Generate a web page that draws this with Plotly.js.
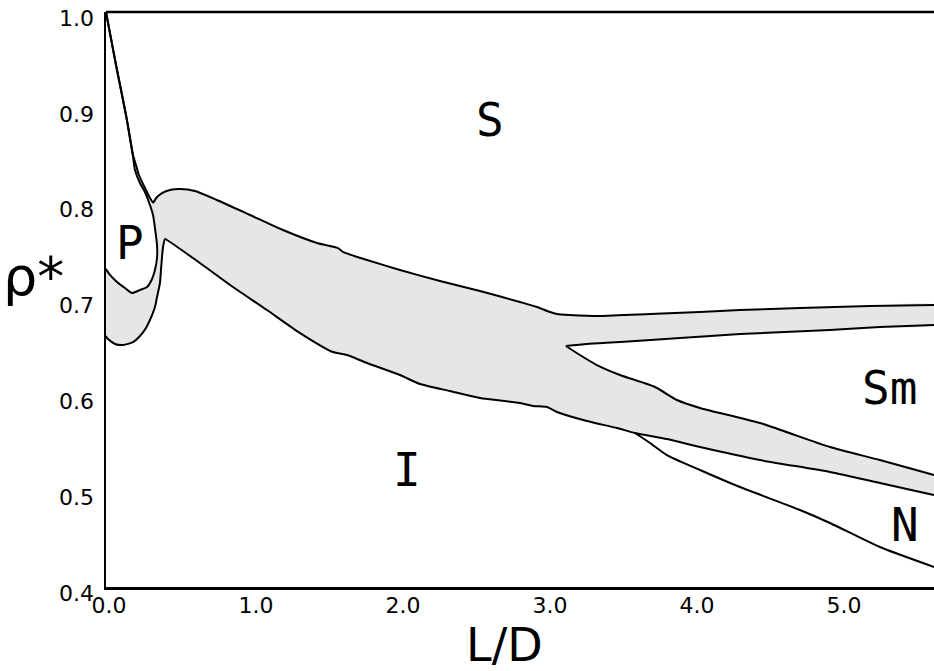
<!DOCTYPE html>
<html>
<head>
<meta charset="utf-8">
<script src="https://cdn.plot.ly/plotly-3.0.1.min.js"></script>
<style>
html, body { margin: 0; padding: 0; overflow: hidden; background: #fff; }
#chart { width: 934px; height: 671px; }
</style>
</head>
<body>
<div id="chart"></div>
<script>
// ---- Data (L/D, reduced density rho*) ----
// Solid / plastic boundary (inner line of the thin S+P sliver, continuing round the P region)
const innerX = [0, 0.068, 0.136, 0.184, 0.197, 0.231, 0.265, 0.299, 0.320, 0.333, 0.347, 0.347, 0.333, 0.313, 0.279, 0.231, 0.177, 0.129, 0.075, 0.027, 0];
const innerY = [1.0, 0.9447, 0.8925, 0.8487, 0.8351, 0.8216, 0.8122, 0.7986, 0.7882, 0.7746, 0.7569, 0.7433, 0.7308, 0.7214, 0.7130, 0.7099, 0.7068, 0.7120, 0.7183, 0.7256, 0.7318];
// Outer line of the S+P sliver
const outerX = [0, 0.068, 0.136, 0.184, 0.204, 0.224, 0.265, 0.299, 0.320];
const outerY = [1.0, 0.9447, 0.8925, 0.8508, 0.8403, 0.8299, 0.8163, 0.8059, 0.8007];
// Upper edge of the coexistence band (solid side)
const bandTopX = [0.320, 0.347, 0.381, 0.435, 0.503, 0.605, 0.755, 0.980, 1.204, 1.435, 1.578, 1.612, 1.776, 2.000, 2.272, 2.544, 2.816, 2.932, 3.020, 3.068, 3.156, 3.361, 3.701, 4.041, 4.313, 4.721, 5.197, 5.633];
const bandTopY = [0.8007, 0.8070, 0.8111, 0.8143, 0.8153, 0.8132, 0.8038, 0.7882, 0.7725, 0.7590, 0.7537, 0.7496, 0.7412, 0.7308, 0.7193, 0.7089, 0.6974, 0.6922, 0.6869, 0.6848, 0.6838, 0.6828, 0.6848, 0.6869, 0.6890, 0.6911, 0.6932, 0.6942];
// Smectic upper boundary (lower edge of S+Sm band)
const smUpperX = [3.129, 3.272, 3.497, 3.905, 4.313, 4.925, 5.265, 5.633];
const smUpperY = [0.6515, 0.6536, 0.6556, 0.6598, 0.6640, 0.6682, 0.6713, 0.6734];
// Smectic lower boundary (upper edge of Sm+N band)
const smLowerX = [3.129, 3.224, 3.340, 3.497, 3.735, 3.884, 4.041, 4.449, 4.925, 5.265, 5.633];
const smLowerY = [0.6515, 0.6421, 0.6316, 0.6212, 0.6087, 0.5951, 0.5868, 0.5711, 0.5461, 0.5325, 0.5169];
// Lower edge of the coexistence band (isotropic / nematic side)
const lowX = [0, 0.007, 0.061, 0.116, 0.184, 0.231, 0.272, 0.299, 0.333, 0.347, 0.367, 0.374, 0.381, 0.388, 0.401, 0.415, 0.639, 0.864, 1.095, 1.320, 1.544, 1.639, 1.776, 2.000, 2.136, 2.340, 2.544, 2.816, 2.905, 3.000, 3.068, 3.272, 3.476, 3.599, 3.816, 4.041, 4.449, 4.925, 5.265, 5.633];
const lowY = [0.6619, 0.6598, 0.6536, 0.6525, 0.6556, 0.6619, 0.6703, 0.6786, 0.6922, 0.7026, 0.7172, 0.7308, 0.7443, 0.7548, 0.7631, 0.7621, 0.7381, 0.7130, 0.6890, 0.6650, 0.6452, 0.6421, 0.6337, 0.6212, 0.6118, 0.6045, 0.5972, 0.5920, 0.5889, 0.5878, 0.5826, 0.5732, 0.5659, 0.5607, 0.5544, 0.5461, 0.5325, 0.5200, 0.5085, 0.4960];
// Isotropic / nematic boundary
const nX = [3.599, 3.701, 3.816, 4.041, 4.313, 4.721, 4.925, 5.265, 5.633];
const nY = [0.5607, 0.5503, 0.5377, 0.5221, 0.5043, 0.4803, 0.4668, 0.4417, 0.4209];

// Phase labels
const phaseText = ["S", "P", "I", "Sm", "N"];
const phaseX = [2.612, 0.163, 2.048, 5.327, 5.435];
const phaseY = [0.8873, 0.759, 0.5221, 0.6076, 0.4647];

// Axis titles
const xTitle = "L/D";
const yTitle = "ρ*";

// Tick labels
const xTickVals = [0, 1, 2, 3, 4, 5];
const xTickText = ["0.0", "1.0", "2.0", "3.0", "4.0", "5.0"];
const yTickVals = [0.4, 0.5, 0.6, 0.7, 0.8, 0.9, 1.0];
const yTickText = ["0.4", "0.5", "0.6", "0.7", "0.8", "0.9", "1.0"];

// ---- Build the gray coexistence region from the boundaries ----
const rev = a => a.slice().reverse();
const grayX = [].concat(bandTopX, rev(smUpperX), smLowerX, rev(lowX), rev(innerX.slice(7)));
const grayY = [].concat(bandTopY, rev(smUpperY), smLowerY, rev(lowY), rev(innerY.slice(7)));

const smooth = 0.6;
const lineStyle = {color: "#000", width: 2, shape: "spline", smoothing: smooth};
const traces = [
  {x: grayX, y: grayY, mode: "lines", fill: "toself", fillcolor: "#e6e6e6", line: {width: 0, shape: "spline", smoothing: smooth}, hoverinfo: "skip"},
  {x: innerX, y: innerY, mode: "lines", line: lineStyle},
  {x: outerX, y: outerY, mode: "lines", line: lineStyle},
  {x: bandTopX, y: bandTopY, mode: "lines", line: lineStyle},
  {x: smUpperX, y: smUpperY, mode: "lines", line: lineStyle},
  {x: smLowerX, y: smLowerY, mode: "lines", line: lineStyle},
  {x: lowX, y: lowY, mode: "lines", line: lineStyle},
  {x: nX, y: nY, mode: "lines", line: lineStyle}
];

const annotations = phaseText.map((t, i) => ({
  x: phaseX[i], y: phaseY[i], xref: "x", yref: "y", text: t, showarrow: false,
  font: {family: "DejaVu Sans Mono", size: 46, color: "#000"}, xanchor: "center", yanchor: "middle"
}));
annotations.push({
  x: -0.0875, y: 0.54, xref: "paper", yref: "paper", text: yTitle, showarrow: false,
  font: {family: "DejaVu Sans", size: 54, color: "#000"}, xanchor: "center", yanchor: "middle"
});
annotations.push({
  x: 0.4807, y: -0.101, xref: "paper", yref: "paper", text: xTitle, showarrow: false,
  font: {family: "DejaVu Sans", size: 46, color: "#000"}, xanchor: "center", yanchor: "middle"
});

const layout = {
  width: 934, height: 671,
  margin: {l: 106, r: 0, t: 12, b: 84, pad: 0},
  paper_bgcolor: "#fff", plot_bgcolor: "#fff",
  showlegend: false, hovermode: false,
  font: {family: "DejaVu Sans", color: "#000"},
  xaxis: {
    range: [0, 5.633], showgrid: false, zeroline: false,
    showline: true, linecolor: "#000", linewidth: 2.5,
    ticks: "", tickmode: "array", tickvals: xTickVals, ticktext: xTickText,
    tickfont: {family: "DejaVu Sans", size: 22, color: "#000"},
    ticklabelshift: 3, ticklabelstandoff: -3
  },
  yaxis: {
    range: [0.4, 1.0], showgrid: false, zeroline: false,
    showline: true, linecolor: "#000", linewidth: 2.5,
    ticks: "", tickmode: "array", tickvals: yTickVals, ticktext: yTickText,
    tickfont: {family: "DejaVu Sans", size: 22, color: "#000"},
    ticklabelshift: 6, ticklabelstandoff: 5
  },
  shapes: [{type: "line", xref: "paper", yref: "paper", x0: 0, x1: 1, y0: 1, y1: 1, line: {color: "#000", width: 2.5}}],
  annotations: annotations
};

Plotly.newPlot("chart", traces, layout, {staticPlot: true, displayModeBar: false});
</script>
</body>
</html>
